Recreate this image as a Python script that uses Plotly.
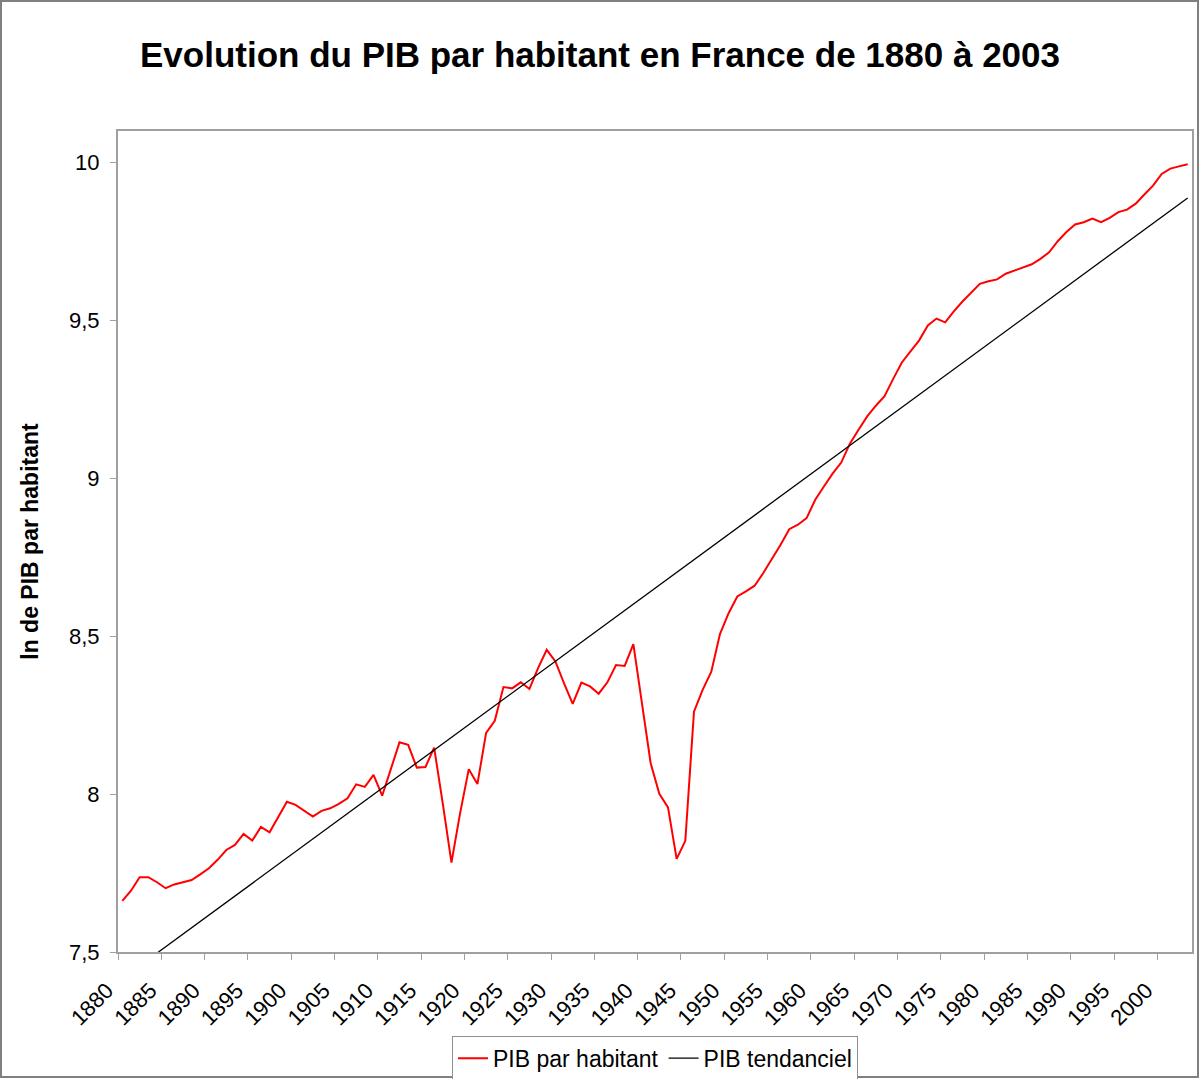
import plotly.graph_objects as go

# ln du PIB par habitant (1880 -> 2003)
years = list(range(1880, 2004))
pib = [
    7.662, 7.694, 7.737, 7.737, 7.721, 7.702, 7.714, 7.720, 7.728, 7.746,  # 1880
    7.765, 7.792, 7.823, 7.839, 7.874, 7.853, 7.896, 7.879, 7.926, 7.976,  # 1890
    7.966, 7.948, 7.929, 7.947, 7.955, 7.969, 7.987, 8.031, 8.023, 8.061,  # 1900
    7.995, 8.079, 8.164, 8.156, 8.084, 8.086, 8.147, 7.970, 7.783, 7.940,  # 1910
    8.079, 8.032, 8.194, 8.232, 8.339, 8.335, 8.354, 8.333, 8.399, 8.457,  # 1920
    8.420, 8.351, 8.286, 8.353, 8.341, 8.318, 8.354, 8.409, 8.406, 8.475,  # 1930
    8.288, 8.098, 8.001, 7.958, 7.795, 7.852, 8.261, 8.330, 8.388, 8.507,  # 1940
    8.573, 8.626, 8.642, 8.660, 8.700, 8.744, 8.790, 8.839, 8.853, 8.874,  # 1950
    8.932, 8.974, 9.015, 9.050, 9.110, 9.154, 9.196, 9.230, 9.260, 9.315,  # 1960
    9.367, 9.402, 9.437, 9.484, 9.506, 9.494, 9.529, 9.560, 9.589, 9.616,  # 1970
    9.624, 9.630, 9.648, 9.658, 9.666, 9.678, 9.695, 9.716, 9.751, 9.780,  # 1980
    9.804, 9.811, 9.823, 9.811, 9.825, 9.843, 9.851, 9.870, 9.899, 9.927,  # 1990
    9.964, 9.981, 9.988, 9.995,                                            # 2000
]

# droite de tendance (extremites)
trend_years = [1880, 2003]
trend_values = [7.416, 9.888]

# axes
x_tick_pos = [y - 0.5 for y in range(1880, 2001, 5)]
x_tick_text = [str(y) for y in range(1880, 2001, 5)]
y_tick_vals = [7.5, 8, 8.5, 9, 9.5, 10]
y_tick_text = ["7,5", "8", "8,5", "9", "9,5", "10"]

FONT = "Liberation Sans, Arial, sans-serif"

fig = go.Figure()

fig.add_trace(go.Scatter(
    x=years, y=pib, mode="lines", name="PIB par habitant",
    line=dict(color="#ff0000", width=2),
))
fig.add_trace(go.Scatter(
    x=trend_years, y=trend_values, mode="lines", name="PIB tendanciel",
    line=dict(color="#000000", width=1.3),
))

fig.update_layout(
    width=1200, height=1079,
    margin=dict(l=118, r=8, t=131, b=127, autoexpand=False),
    paper_bgcolor="white", plot_bgcolor="white",
    font=dict(family=FONT, color="black"),
    title=dict(
        text="<b>Evolution du PIB par habitant en France de 1880 à 2003</b>",
        x=0.5, xref="container", xanchor="center",
        y=1 - 55 / 1079, yanchor="middle",
        font=dict(size=35, family=FONT),
    ),
    showlegend=True,
    legend=dict(
        orientation="h", x=0.5, xanchor="center", y=-0.102, yanchor="top",
        bordercolor="#909090", borderwidth=1, bgcolor="white",
        font=dict(size=23, family=FONT),
        itemwidth=30, tracegroupgap=0,
    ),
    shapes=[dict(
        type="rect", xref="paper", yref="paper",
        x0=-117 / 1074, x1=1 + 6 / 1074, y0=-125 / 821, y1=1 + 130 / 821,
        line=dict(color="#808080", width=2), layer="above",
    )],
)

fig.update_xaxes(
    range=[1879.5, 2003.5], tickmode="array",
    tickvals=x_tick_pos, ticktext=x_tick_text, tickangle=-45,
    ticks="outside", ticklen=6, tickcolor="#a0a0a0",
    ticklabelstandoff=9, ticklabelshift=-11,
    showline=True, linecolor="#a0a0a0", linewidth=2, mirror=True,
    showgrid=False, zeroline=False,
    tickfont=dict(size=22, family=FONT),
)
fig.update_yaxes(
    range=[7.5, 10.1], tickmode="array",
    tickvals=y_tick_vals, ticktext=y_tick_text,
    ticks="outside", ticklen=6, tickcolor="#a0a0a0",
    ticklabelstandoff=6,
    showline=True, linecolor="#a0a0a0", linewidth=2, mirror=True,
    showgrid=False, zeroline=False,
    tickfont=dict(size=22, family=FONT),
    title=dict(text="<b>ln de PIB par habitant</b>", font=dict(size=23, family=FONT), standoff=24),
)

fig.write_html("out.html", config={"displayModeBar": False},
               post_script="document.body.style.margin='0';")
